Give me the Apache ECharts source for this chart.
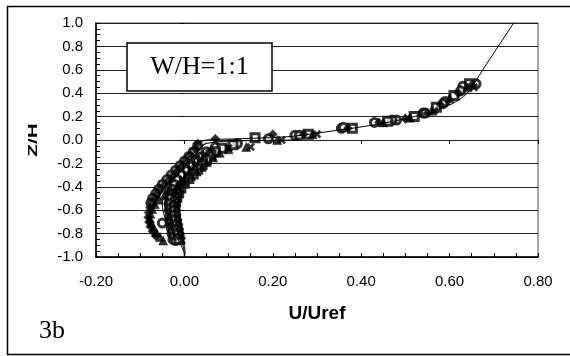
<!DOCTYPE html>
<html>
<head>
<meta charset="utf-8">
<script src="https://cdn.jsdelivr.net/npm/echarts@6/dist/echarts.min.js"></script>
<style>
  html, body { margin: 0; padding: 0; background: #fff; }
  #chart { width: 570px; height: 356px; }
</style>
</head>
<body>
<div id="chart"></div>
<script>
// axis ticks
const xTicks = [-0.2, 0.0, 0.2, 0.4, 0.6, 0.8];
const yTicks = [-1.0, -0.8, -0.6, -0.4, -0.2, 0.0, 0.2, 0.4, 0.6, 0.8, 1.0];

// computed profiles (thin lines)
const lineA = [[0.745,1.0],[0.71,0.8],[0.675,0.6],[0.64,0.4],[0.6,0.3],[0.52,0.2],[0.43,0.13],[0.34,0.08],[0.24,0.03],[0.12,0.01],[0.05,0.0],[0.03,-0.03],[0.015,-0.08],[0.0,-0.15],[-0.02,-0.25],[-0.035,-0.35],[-0.045,-0.45],[-0.05,-0.55],[-0.045,-0.65],[-0.03,-0.75],[-0.015,-0.85],[-0.005,-0.92],[0.0,-0.97]];
const lineB = [[0.26,0.0],[0.1,-0.01],[0.05,-0.03],[0.03,-0.08],[0.01,-0.15],[-0.01,-0.22],[-0.025,-0.32],[-0.04,-0.45],[-0.045,-0.55],[-0.04,-0.62],[-0.025,-0.72],[-0.01,-0.82],[-0.002,-0.92],[0.0,-1.0]];
const lineC = [[0.05,-0.02],[0.03,-0.1],[0.02,-0.2],[0.0,-0.3],[-0.015,-0.4],[-0.02,-0.5],[-0.015,-0.6],[-0.01,-0.7],[-0.005,-0.8],[0.0,-0.9],[0.002,-0.98]];

// measured profiles (markers)
const diamonds = [[0.65,0.47],[0.62,0.40],[0.58,0.30],[0.55,0.23],[0.5,0.18],[0.44,0.15],[0.37,0.10],[0.27,0.05],[0.2,0.05],[0.07,0.01],[0.03,-0.03],[0.025,-0.08],[0.015,-0.13],[0.005,-0.18],[-0.005,-0.22],[-0.015,-0.26],[-0.025,-0.30],[-0.035,-0.34],[-0.045,-0.38],[-0.055,-0.42],[-0.062,-0.46],[-0.068,-0.50],[-0.074,-0.54],[-0.078,-0.58],[-0.081,-0.62],[-0.082,-0.66],[-0.08,-0.70],[-0.077,-0.74],[-0.072,-0.78],[-0.065,-0.82]];
const triangles = [[0.64,0.45],[0.6,0.36],[0.56,0.25],[0.51,0.19],[0.45,0.15],[0.29,0.05],[0.21,0.0],[0.14,-0.06],[0.1,-0.08],[0.08,-0.11],[0.065,-0.15],[0.05,-0.19],[0.04,-0.23],[0.028,-0.27],[0.015,-0.31],[0.0,-0.35],[-0.015,-0.39],[-0.03,-0.43],[-0.045,-0.47],[-0.057,-0.51],[-0.067,-0.55],[-0.073,-0.59],[-0.077,-0.63],[-0.078,-0.67],[-0.075,-0.71],[-0.07,-0.75],[-0.063,-0.79],[-0.055,-0.83],[-0.048,-0.86]];
const squares = [[0.645,0.48],[0.61,0.38],[0.57,0.28],[0.52,0.2],[0.46,0.16],[0.38,0.1],[0.28,0.05],[0.16,0.02],[0.11,-0.04],[0.085,-0.07],[0.07,-0.1],[0.06,-0.13],[0.05,-0.17],[0.04,-0.21],[0.03,-0.25],[0.02,-0.29],[0.01,-0.33],[0.0,-0.37],[-0.008,-0.41],[-0.013,-0.45],[-0.017,-0.49],[-0.02,-0.53],[-0.022,-0.57],[-0.022,-0.61],[-0.021,-0.65],[-0.02,-0.69],[-0.018,-0.73],[-0.016,-0.77],[-0.014,-0.81],[-0.012,-0.85]];
const openCircles = [[0.63,0.46],[0.59,0.33],[0.54,0.23],[0.48,0.17],[0.43,0.15],[0.355,0.1],[0.25,0.04],[0.19,0.01],[0.03,-0.05],[0.02,-0.1],[0.01,-0.14],[0.0,-0.18],[-0.01,-0.22],[-0.02,-0.26],[-0.03,-0.30],[-0.04,-0.34],[-0.05,-0.38],[-0.058,-0.42],[-0.065,-0.46],[-0.072,-0.5],[-0.076,-0.54],[-0.05,-0.71],[-0.032,-0.45],[-0.033,-0.5],[-0.034,-0.55],[-0.034,-0.6],[-0.033,-0.65],[-0.032,-0.7],[-0.03,-0.75],[-0.028,-0.8],[-0.026,-0.85]];
const crosses = [[0.655,0.45],[0.565,0.25],[0.505,0.19],[0.3,0.05],[0.22,0.0],[0.15,-0.06],[0.1,-0.07],[0.06,-0.1],[0.045,-0.14],[0.035,-0.18],[0.025,-0.22],[0.015,-0.26],[0.005,-0.30],[-0.003,-0.34],[-0.008,-0.38],[-0.012,-0.42],[-0.015,-0.46],[-0.017,-0.5],[-0.018,-0.54],[-0.018,-0.58],[-0.017,-0.62],[-0.016,-0.66],[-0.014,-0.7],[-0.012,-0.74],[-0.01,-0.78],[-0.008,-0.82],[-0.006,-0.86]];
const circles = [[0.66,0.48],[0.625,0.42],[0.585,0.31],[0.545,0.23],[0.47,0.17],[0.36,0.11],[0.26,0.04],[0.12,-0.03],[0.07,-0.06],[0.05,-0.1],[0.04,-0.14],[0.03,-0.18],[0.018,-0.22],[0.006,-0.26],[-0.006,-0.3],[-0.015,-0.34],[-0.022,-0.38],[-0.027,-0.42],[-0.03,-0.46],[-0.031,-0.5],[-0.031,-0.54],[-0.03,-0.58],[-0.029,-0.62],[-0.028,-0.66],[-0.027,-0.7],[-0.026,-0.74],[-0.025,-0.78],[-0.023,-0.82],[-0.02,-0.86]];

const crossPath = 'path://M0,2L2,0L5,3L8,0L10,2L7,5L10,8L8,10L5,7L2,10L0,8L3,5Z';
const font = '"Liberation Sans", Arial, sans-serif';
const serif = '"Liberation Serif", "Times New Roman", serif';

const chart = echarts.init(document.getElementById('chart'));

const baseX = {
    type: 'value', min: xTicks[0], max: xTicks[xTicks.length - 1], interval: 0.2,
    position: 'bottom'
};
const baseY = {
    type: 'value', min: yTicks[0], max: yTicks[yTicks.length - 1], interval: 0.2,
    position: 'left'
};

function markers(data, symbol, size, open) {
    return {
        type: 'scatter',
        data: data,
        symbol: symbol,
        symbolSize: size,
        itemStyle: open
            ? { color: '#fff', borderColor: '#000', borderWidth: 3 }
            : { color: '#000', borderColor: '#000', borderWidth: 0.5 },
        z: 3
    };
}

function curve(data) {
    return {
        type: 'line',
        data: data,
        showSymbol: false,
        smooth: 0.3,
        lineStyle: { color: '#000', width: 1 },
        z: 4
    };
}

const option = {
    animation: false,
    backgroundColor: '#fff',
    grid: {
        left: 96, right: 32, top: 23, bottom: 99,
        show: true, borderColor: '#888', borderWidth: 1.5
    },
    xAxis: [
        Object.assign({}, baseX, {
            name: 'U/Uref',
            nameLocation: 'middle',
            nameGap: 47,
            nameTextStyle: { fontFamily: font, fontWeight: 'bold', fontSize: 19, color: '#000' },
            axisLine: { onZero: false, lineStyle: { color: '#000', width: 1.5 } },
            axisTick: { inside: true, length: 4, lineStyle: { color: '#000' } },
            minorTick: { show: true, splitNumber: 4, length: 4, lineStyle: { color: '#000' } },
            axisLabel: {
                fontFamily: font, fontSize: 15, color: '#000', margin: 17,
                formatter: v => v.toFixed(2)
            },
            splitLine: { show: false }
        }),
        Object.assign({}, baseX, {
            axisLine: { show: false },
            axisTick: { inside: false, length: 4, lineStyle: { color: '#000' } },
            axisLabel: { show: false },
            splitLine: { show: false }
        })
    ],
    yAxis: [
        Object.assign({}, baseY, {
            axisLine: { onZero: false, lineStyle: { color: '#000', width: 1.5 } },
            axisTick: { inside: true, length: 4, lineStyle: { color: '#000' } },
            minorTick: { show: true, splitNumber: 4, length: 4, lineStyle: { color: '#000' } },
            axisLabel: {
                fontFamily: font, fontSize: 15, color: '#000', margin: 13,
                formatter: v => v.toFixed(1)
            },
            splitLine: { show: true, lineStyle: { color: '#222', width: 1 } }
        }),
        Object.assign({}, baseY, {
            axisLine: { show: false },
            axisTick: { inside: false, length: 4, lineStyle: { color: '#000' } },
            axisLabel: { show: false },
            splitLine: { show: false }
        })
    ],
    series: [
        markers(openCircles, 'circle', 8, true),
        markers(circles, 'circle', 8, true),
        markers(squares, 'rect', 8, true),
        markers(triangles, 'triangle', 9),
        markers(diamonds, 'diamond', 9),
        markers(crosses, crossPath, 8),
        curve(lineA),
        curve(lineB),
        curve(lineC)
    ],
    graphic: [
        {
            type: 'rect',
            shape: { x: 7.5, y: 6.5, width: 600, height: 348 },
            style: { fill: null, stroke: '#000', lineWidth: 1.5 },
            silent: true
        },
        {
            type: 'rect',
            shape: { x: 127, y: 43, width: 145, height: 48 },
            style: { fill: '#fff', stroke: '#000', lineWidth: 1.5 },
            z: 10
        },
        {
            type: 'text',
            x: 199.5, y: 67,
            style: {
                text: 'W/H=1:1', font: '26px ' + serif, fill: '#000',
                align: 'center', verticalAlign: 'middle'
            },
            z: 11
        },
        {
            type: 'text',
            x: 39, y: 331,
            style: {
                text: '3b', font: '26px ' + serif, fill: '#000',
                align: 'left', verticalAlign: 'middle'
            }
        },
        {
            type: 'text',
            x: 33, y: 140,
            rotation: Math.PI / 2,
            scaleX: 1.6,
            style: {
                text: 'Z/H', font: 'bold 13px ' + font, fill: '#000',
                align: 'center', verticalAlign: 'middle'
            }
        }
    ]
};

chart.setOption(option);
</script>
</body>
</html>
